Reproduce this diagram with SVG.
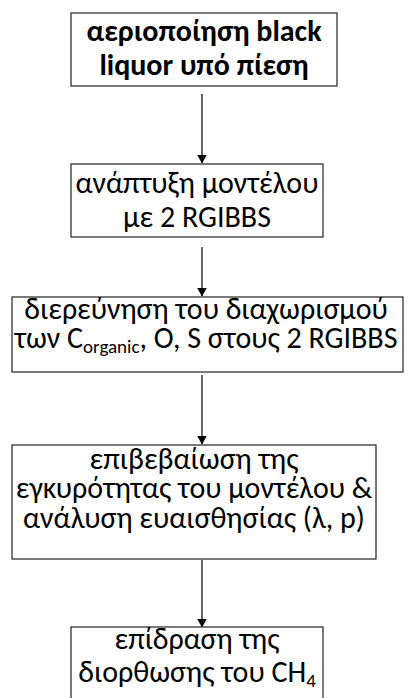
<svg xmlns="http://www.w3.org/2000/svg" width="409" height="698" viewBox="0 0 409 698">
<style>
.box{fill:#fff;stroke:#333;stroke-width:1.3}
.t{font-family:Carlito,Lato,"Liberation Sans",sans-serif;font-size:30px;fill:#000;text-anchor:middle}
.b{font-weight:bold;font-size:30px}
.s{font-size:19px}
.c{stroke:#000;stroke-width:1.2;fill:none}
</style>
<defs>
<marker id="ah" markerWidth="9" markerHeight="10" refX="8.5" refY="5" orient="auto" markerUnits="userSpaceOnUse">
<path d="M0,0 L9,5 L0,10 Z" fill="#000"/>
</marker>
</defs>
<rect width="409" height="698" fill="#fff"/>
<g id="connectors">
<line class="c" x1="202" y1="94" x2="202" y2="163" marker-end="url(#ah)"/>
<line class="c" x1="202" y1="247" x2="202" y2="296" marker-end="url(#ah)"/>
<line class="c" x1="202" y1="375" x2="202" y2="444" marker-end="url(#ah)"/>
<line class="c" x1="202" y1="560" x2="202" y2="627" marker-end="url(#ah)"/>
</g>
<g id="n1">
<rect class="box" x="71" y="13" width="266" height="73"/>
<text class="t b" x="204" y="41">αεριοποίηση black</text>
<text class="t b" x="204" y="75">liquor υπό πίεση</text>
</g>
<g id="n2">
<rect class="box" x="71" y="164" width="252" height="73"/>
<text class="t" x="197" y="193">ανάπτυξη μοντέλου</text>
<text class="t" x="197" y="227">με 2 RGIBBS</text>
</g>
<g id="n3">
<rect class="box" x="12" y="297" width="391" height="75"/>
<text class="t" x="206" y="319">διερεύνηση του διαχωρισμού</text>
<text class="t" x="206" y="348">των C<tspan class="s" dy="5">organic</tspan><tspan dy="-5">, O, S στους 2 RGIBBS</tspan></text>
</g>
<g id="n4">
<rect class="box" x="12" y="445" width="364" height="114"/>
<text class="t" x="194" y="469">επιβεβαίωση της</text>
<text class="t" x="194" y="498">εγκυρότητας του μοντέλου &amp;</text>
<text class="t" x="194" y="528">ανάλυση ευαισθησίας (λ, p)</text>
</g>
<g id="n5">
<rect class="box" x="71" y="627" width="252" height="90"/>
<text class="t" x="197" y="649">επίδραση της</text>
<text class="t" x="197" y="682">διορθωσης του CH<tspan class="s" dy="5">4</tspan></text>
</g>
</svg>
